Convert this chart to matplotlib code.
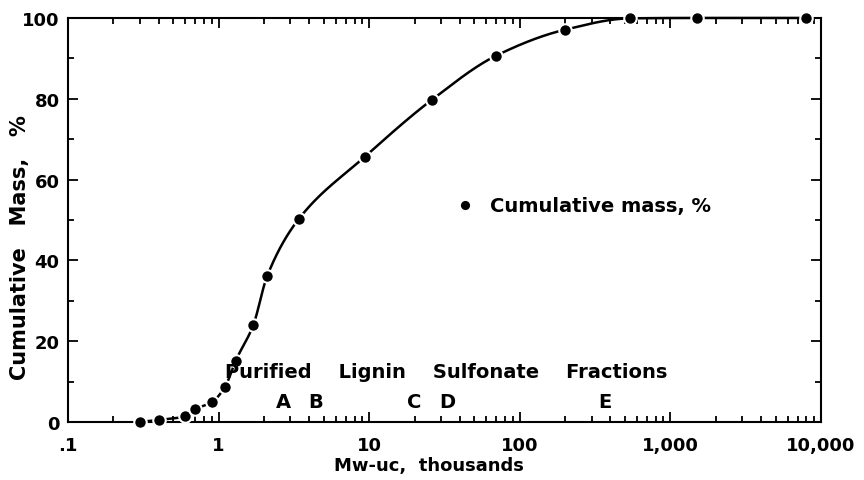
import numpy as np
import matplotlib
matplotlib.use('Agg')
import matplotlib.pyplot as plt
from matplotlib.ticker import FixedLocator, NullFormatter

plt.rcParams['font.family'] = ['DejaVu Sans']
plt.rcParams['font.weight'] = 'bold'

# Mw-uc (thousands) and cumulative mass (%)
mw = [0.3, 0.4, 0.6, 0.7, 0.9, 1.1, 1.3, 1.7, 2.1, 3.4, 9.4, 26, 70, 200, 540, 1500, 8000]
cum_mass = [0, 0.5, 1.4, 3.2, 4.9, 8.6, 15.2, 24, 36.1, 50.2, 65.7, 79.7, 90.7, 97.1, 99.9, 100, 100]

x_ticks = [0.1, 1, 10, 100, 1000, 10000]
x_labels = ['.1', '1', '10', '100', '1,000', '10,000']
y_ticks = [0, 20, 40, 60, 80, 100]

fractions = ['A', 'B', 'C', 'D', 'E']
fraction_mw = [2.7, 4.4, 20, 33, 370]


def pchip(x, y, xs):
    # monotone cubic through the measured points, used only to draw the smooth line
    x = np.asarray(x, float)
    y = np.asarray(y, float)
    h = np.diff(x)
    d = np.diff(y) / h
    m = np.zeros_like(y)
    for k in range(1, len(x) - 1):
        if d[k - 1] * d[k] > 0:
            w1 = 2 * h[k] + h[k - 1]
            w2 = h[k] + 2 * h[k - 1]
            m[k] = (w1 + w2) / (w1 / d[k - 1] + w2 / d[k])
    m[0] = d[0]
    m[-1] = d[-1]
    idx = np.clip(np.searchsorted(x, xs) - 1, 0, len(x) - 2)
    t = (xs - x[idx]) / h[idx]
    h00 = 2 * t**3 - 3 * t**2 + 1
    h10 = t**3 - 2 * t**2 + t
    h01 = -2 * t**3 + 3 * t**2
    h11 = t**3 - t**2
    return h00 * y[idx] + h10 * h[idx] * m[idx] + h01 * y[idx + 1] + h11 * h[idx] * m[idx + 1]


fs = 13   # tick labels, x title
fs2 = 14  # annotations, legend

fig = plt.figure(figsize=(8.64, 4.81), dpi=100)
ax = fig.add_axes([0.0787, 0.1206, 0.8715, 0.84])

lx = np.log10(mw)
xs = np.linspace(lx[0], lx[-1], 600)
ax.plot(10**xs, pchip(lx, cum_mass, xs), color='black', lw=1.8, zorder=2, clip_on=False)
ax.plot(mw, cum_mass, 'o', color='black', ms=9, mec='white', mew=1.5,
        zorder=3, clip_on=False, label='Cumulative mass, %')

ax.set_xscale('log')
ax.set_xlim(0.1, 10000)
ax.set_ylim(0, 100)
ax.xaxis.set_major_locator(FixedLocator(x_ticks))
ax.set_xticklabels(x_labels)
ax.xaxis.set_minor_locator(FixedLocator(
    [d * k for d in [0.1, 1, 10, 100, 1000] for k in range(2, 10)]))
ax.xaxis.set_minor_formatter(NullFormatter())
ax.set_yticks(y_ticks)
ax.set_yticks([10, 30, 50, 70, 90], minor=True)

ax.tick_params(which='both', direction='in', top=True, right=True, width=1.3,
               labelsize=fs)
ax.tick_params(axis='x', which='major', pad=10)
ax.tick_params(axis='y', which='major', pad=6)
ax.tick_params(which='major', length=7)
ax.tick_params(which='minor', length=4)
for s in ax.spines.values():
    s.set_linewidth(1.5)

ax.set_xlabel('Mw-uc,  thousands', fontsize=fs, fontweight='bold')
ax.set_ylabel('Cumulative   Mass,   %', fontsize=15, fontweight='bold')
ax.xaxis.set_label_coords(0.479, -0.085)
ax.yaxis.set_label_coords(-0.05, 0.433)

ax.text(1.1, 12.4, 'Purified    Lignin    Sulfonate    Fractions', fontsize=fs2,
        fontweight='bold', va='center', ha='left')
for lab, xv in zip(fractions, fraction_mw):
    ax.text(xv, 5, lab, fontsize=fs2, fontweight='bold', va='center', ha='center')

ax.legend(loc='center left', bbox_to_anchor=(0.478, 0.535), frameon=False,
          handletextpad=0.3, fontsize=fs2, markerscale=0.9)

fig.savefig('out.png', dpi=100)
